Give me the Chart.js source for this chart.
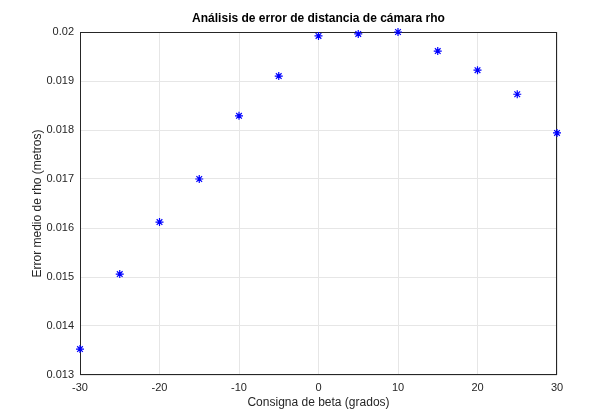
<!DOCTYPE html>
<html>
<head>
<meta charset="utf-8">
<script src="https://cdn.jsdelivr.net/npm/chart.js@4/dist/chart.umd.min.js"></script>
<style>
  html, body { margin: 0; padding: 0; background: #fff; }
  #wrap { width: 616px; height: 420px; }
</style>
</head>
<body>
<div id="wrap"><canvas id="rhoChart" width="616" height="420"></canvas></div>
<script>
// Datos
const betaValues = [-30, -25, -20, -15, -10, -5, 0, 5, 10, 15, 20, 25, 30];
const rhoError = [0.01353, 0.01506, 0.01612, 0.01700, 0.01829, 0.01910, 0.01992,
                  0.01996, 0.02000, 0.01961, 0.01922, 0.01873, 0.01794];
const xTicks = [-30, -20, -10, 0, 10, 20, 30];
const yTicks = [0.013, 0.014, 0.015, 0.016, 0.017, 0.018, 0.019, 0.02];

const chartTitle = 'Análisis de error de distancia de cámara rho';
const fontFamily = '"Liberation Sans", Arial, sans-serif';

// Título dibujado a mano para fijar su posición
const titlePlugin = {
    id: 'titleText',
    afterDraw(chart) {
        const ctx = chart.ctx;
        const area = chart.chartArea;
        ctx.save();
        ctx.font = 'bold 12px ' + fontFamily;
        ctx.fillStyle = '#000';
        ctx.textAlign = 'center';
        ctx.textBaseline = 'middle';
        ctx.fillText(chartTitle, (area.left + area.right) / 2, 19);
        ctx.restore();
    }
};

// Marco completo alrededor del área del gráfico
const boxPlugin = {
    id: 'box',
    beforeDatasetsDraw(chart) {
        const ctx = chart.ctx;
        const a = chart.chartArea;
        ctx.save();
        ctx.strokeStyle = '#262626';
        ctx.lineWidth = 1;
        ctx.strokeRect(a.left + 0.5, a.top + 0.5, a.right - a.left - 1, a.bottom - a.top - 1);
        ctx.restore();
    }
};

const ctx = document.getElementById('rhoChart').getContext('2d');
new Chart(ctx, {
    type: 'scatter',
    data: {
        datasets: [{
            data: betaValues.map((b, i) => ({ x: b, y: rhoError[i] })),
            pointStyle: 'star',
            pointRadius: 4,
            pointBorderColor: '#0000ff',
            pointBackgroundColor: '#0000ff',
            pointBorderWidth: 1.2,
            showLine: false,
            clip: false
        }]
    },
    options: {
        responsive: false,
        animation: false,
        layout: { padding: { top: 32, right: 59, left: 26, bottom: 6 } },
        plugins: { legend: { display: false }, tooltip: { enabled: false } },
        scales: {
            x: {
                type: 'linear',
                min: -30, max: 30,
                afterBuildTicks: axis => { axis.ticks = xTicks.map(v => ({ value: v })); },
                afterFit: axis => { axis.height = 39; },
                grid: { color: '#e6e6e6', drawTicks: false },
                border: { display: false },
                ticks: { color: '#262626', padding: 6, font: { family: fontFamily, size: 11 } },
                title: { display: true, text: 'Consigna de beta (grados)', color: '#262626',
                         padding: { top: 0 }, font: { family: fontFamily, size: 12 } }
            },
            y: {
                type: 'linear',
                min: 0.013, max: 0.02,
                afterBuildTicks: axis => { axis.ticks = yTicks.map(v => ({ value: v })); },
                afterFit: axis => { axis.width = 54; },
                grid: { color: '#e6e6e6', drawTicks: false },
                border: { display: false },
                ticks: { color: '#262626', padding: 6, font: { family: fontFamily, size: 11 },
                         callback: v => String(+v.toFixed(3)) },
                title: { display: true, text: 'Error medio de rho (metros)', color: '#262626',
                         padding: { bottom: 0 }, font: { family: fontFamily, size: 12 } }
            }
        }
    },
    plugins: [titlePlugin, boxPlugin]
});
</script>
</body>
</html>
